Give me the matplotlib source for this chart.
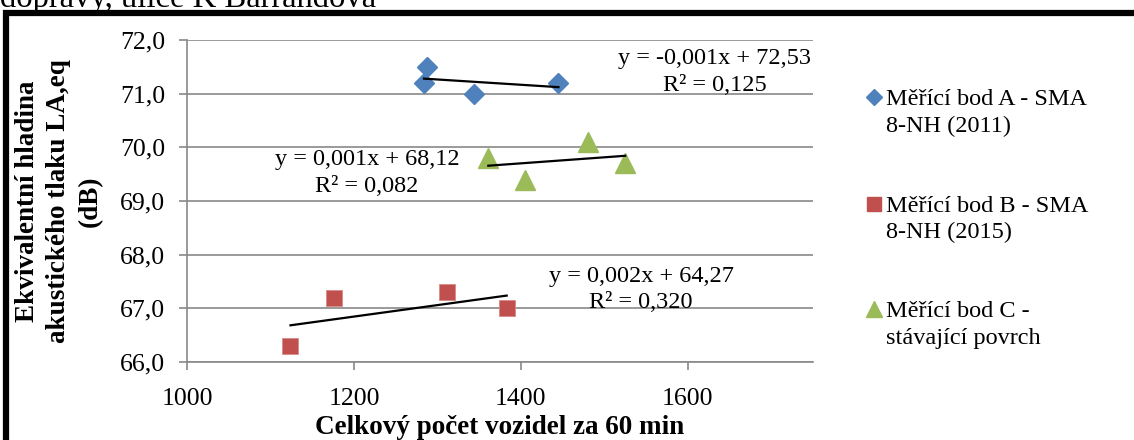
import numpy as np
import matplotlib
matplotlib.use("Agg")
import matplotlib.pyplot as plt
from matplotlib.ticker import FuncFormatter, FixedLocator
from matplotlib.patches import Rectangle
from matplotlib.lines import Line2D

# Measurement data: traffic volume (vehicles / 60 min) vs. LAeq (dB)
a_vehicles = [1284, 1287, 1344, 1445]
a_level = [71.2, 71.5, 71.0, 71.2]
b_vehicles = [1124, 1176, 1311, 1383]
b_level = [66.3, 67.2, 67.3, 67.0]
c_vehicles = [1361, 1405, 1481, 1525]
c_level = [69.8, 69.4, 70.1, 69.7]

series_labels = [["Měřící bod A - SMA", "8-NH (2011)"],
                 ["Měřící bod B - SMA", "8-NH (2015)"],
                 ["Měřící bod C -", "stávající povrch"]]
trend_labels = [["y = -0,001x + 72,53", "R² = 0,125"],
                ["y = 0,002x + 64,27", "R² = 0,320"],
                ["y = 0,001x + 68,12", "R² = 0,082"]]
x_ticks = [1000, 1200, 1400, 1600]
y_ticks = [66.0, 67.0, 68.0, 69.0, 70.0, 71.0, 72.0]

plt.rcParams["font.family"] = ["Liberation Serif", "DejaVu Serif"]
FS = 17.5

W, H = 1134, 440
fig = plt.figure(figsize=(W / 100, H / 100), dpi=100)
fig.patch.set_facecolor("white")


def fx(px):
    return px / W


def fy(py):
    return 1 - py / H


ax = fig.add_axes([fx(187), fy(362), fx(813) - fx(187), fy(40) - fy(362)])
ax.set_xlim(1000, 1750)
ax.set_ylim(66, 72)

grid_c = "#898989"
ax.xaxis.set_major_locator(FixedLocator(x_ticks))
ax.yaxis.set_major_locator(FixedLocator(y_ticks))
ax.yaxis.set_major_formatter(FuncFormatter(lambda v, p: f"{v:.1f}".replace(".", ",")))
ax.xaxis.set_major_formatter(FuncFormatter(lambda v, p: f"{int(v)}"))
ax.grid(axis="y", color=grid_c, linewidth=1.2)
ax.set_axisbelow(True)
for s in ["top", "right"]:
    ax.spines[s].set_visible(False)
for s in ["left", "bottom"]:
    ax.spines[s].set_color(grid_c)
    ax.spines[s].set_linewidth(1.2)
ax.tick_params(axis="both", direction="out", length=5.5, width=1.2,
               color=grid_c, labelsize=18.5)
ax.tick_params(axis="y", pad=10)
ax.tick_params(axis="x", pad=13)

blue, red, green = "#4F81BD", "#C0504D", "#9BBB59"
ax.plot(a_vehicles, a_level, "D", color=blue, ms=10.5, mec=blue, clip_on=False, zorder=3)
ax.plot(b_vehicles, b_level, "s", color=red, ms=11, mec="#D98A88", mew=0.6, clip_on=False, zorder=3)
ax.plot(c_vehicles, c_level, "^", color=green, ms=14, mec=green, clip_on=False, zorder=3)

# Linear trend lines
for xs, ys in [(a_vehicles, a_level), (b_vehicles, b_level), (c_vehicles, c_level)]:
    k, q = np.polyfit(xs, ys, 1)
    xx = np.array([min(xs), max(xs)])
    ax.plot(xx, k * xx + q, color="black", lw=1.6, zorder=4)

# Trend equations, one text per line (center x, first and second baseline in px)
eq_pos = [(715, 64, 91), (641, 282, 308), (367, 165, 192)]
for (cx, b1, b2), lines in zip(eq_pos, trend_labels):
    fig.text(fx(cx), fy(b1), lines[0], ha="center", va="baseline", fontsize=FS)
    fig.text(fx(cx), fy(b2), lines[1], ha="center", va="baseline", fontsize=FS)

# Axis titles
fig.text(fx(500), fy(434), "Celkový počet vozidel za 60 min", ha="center",
         va="baseline", fontsize=19.5, fontweight="bold")
fig.text(fx(59), fy(201), "Ekvivalentní hladina\nakustického tlaku LA,eq\n(dB)",
         rotation=90, ha="center", va="center", fontsize=19.5, fontweight="bold",
         multialignment="center", linespacing=1.35)

# Legend
legend_items = [(blue, "D", 8.5, 105, 132), (red, "s", 10.5, 212, 238),
                (green, "^", 11, 317, 344)]
for (col, mk, ms, b1, b2), lab in zip(legend_items, series_labels):
    fig.add_artist(Line2D([fx(874)], [fy(b1 - 8)], marker=mk, color=col, ms=ms,
                          mec=col, linestyle="none", transform=fig.transFigure))
    fig.text(fx(886), fy(b1), lab[0], ha="left", va="baseline", fontsize=FS)
    fig.text(fx(886), fy(b2), lab[1], ha="left", va="baseline", fontsize=FS)

# Frame around the chart area and the heading line above it
fig.add_artist(Rectangle((fx(6), -0.2), 1.2, fy(13) + 0.2, transform=fig.transFigure,
                         fill=False, edgecolor="black", linewidth=4.5, clip_on=False))
fig.text(fx(0), fy(7), "dopravy, ulice K Barrandova", ha="left", va="baseline",
         fontsize=23.5)

fig.savefig("out.png", dpi=100)
